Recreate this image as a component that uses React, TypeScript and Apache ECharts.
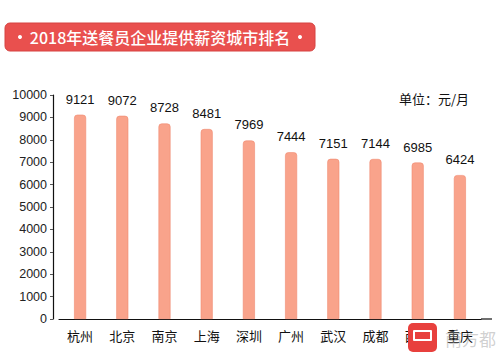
import React, { useEffect, useRef } from "react";
import * as echarts from "echarts";

const title = "2018年送餐员企业提供薪资城市排名";
const unitLabel = "单位：元/月";
const cities = ["杭州", "北京", "南京", "上海", "深圳", "广州", "武汉", "成都", "西安", "重庆"];
const salaries = [9121, 9072, 8728, 8481, 7969, 7444, 7151, 7144, 6985, 6424];
const yMin = 0;
const yMax = 10000;
const yStep = 1000;

const FONT = "'Liberation Sans', 'Noto Sans CJK SC', sans-serif";
const CJK = "'Noto Sans CJK SC', sans-serif";

export default function App() {
  const ref = useRef<HTMLDivElement>(null);
  useEffect(() => {
    if (!ref.current) return;
    const chart = echarts.init(ref.current, undefined, { renderer: "svg" });
    chart.setOption({
      animation: false,
      backgroundColor: "#ffffff",
      grid: { left: 59, right: 19, top: 95, bottom: 42 },
      xAxis: {
        type: "category",
        data: cities,
        axisLine: { lineStyle: { color: "#111", width: 1.2 } },
        axisTick: { show: false },
        axisLabel: { color: "#111", fontSize: 13, margin: 10, fontFamily: CJK },
      },
      yAxis: {
        type: "value",
        min: yMin,
        max: yMax,
        interval: yStep,
        offset: 6,
        splitLine: { show: false },
        axisLine: { show: true, lineStyle: { color: "#111", width: 1.2 } },
        axisTick: { show: true, length: 3, lineStyle: { color: "#555" } },
        axisLabel: {
          color: "#222",
          fontSize: 12.5,
          margin: 6,
          fontFamily: FONT,
          formatter: (v: number) => String(v),
        },
      },
      series: [
        {
          type: "bar",
          data: salaries,
          barWidth: 12,
          itemStyle: {
            color: "#F9A38B",
            borderColor: "#F08A70",
            borderWidth: 0.6,
            borderRadius: [3, 3, 0, 0],
          },
          label: {
            show: true,
            position: "top",
            distance: 9,
            color: "#111",
            fontSize: 13,
            fontFamily: FONT,
          },
        },
      ],
      graphic: [
        {
          type: "rect",
          shape: { x: 5, y: 23, width: 310, height: 28, r: 5 },
          style: { fill: "#E9504E", stroke: "#D64341", lineWidth: 1 },
          z: 10,
        },
        {
          type: "circle",
          shape: { cx: 20, cy: 37, r: 2 },
          style: { fill: "#ffffff" },
          z: 11,
        },
        {
          type: "circle",
          shape: { cx: 300, cy: 37, r: 2 },
          style: { fill: "#ffffff" },
          z: 11,
        },
        {
          type: "text",
          x: 160,
          y: 37,
          style: {
            text: title,
            fill: "#ffffff",
            fontSize: 16,
            fontWeight: 500,
            fontFamily: CJK,
            align: "center",
            verticalAlign: "middle",
          },
          z: 11,
        },
        {
          type: "text",
          x: 434,
          y: 98,
          style: {
            text: unitLabel,
            fill: "#111",
            fontSize: 13,
            fontFamily: CJK,
            align: "center",
            verticalAlign: "middle",
          },
        },
        {
          type: "line",
          shape: { x1: 481, y1: 319, x2: 492, y2: 319 },
          style: { stroke: "#111", lineWidth: 1.2 },
        },
        {
          type: "rect",
          shape: { x: 408, y: 323, width: 29, height: 29, r: 5 },
          style: { fill: "#E8403D" },
          z: 20,
        },
        {
          type: "rect",
          shape: { x: 413, y: 330, width: 19, height: 11, r: 1 },
          style: { fill: "#ffffff" },
          z: 21,
        },
        {
          type: "rect",
          shape: { x: 415, y: 332, width: 15, height: 7 },
          style: { fill: "#E8403D" },
          z: 22,
        },
        {
          type: "text",
          x: 445,
          y: 338,
          style: {
            text: "南方都",
            fill: "rgba(150,150,150,0.45)",
            fontSize: 17,
            fontFamily: CJK,
            align: "left",
            verticalAlign: "middle",
          },
          z: 20,
        },
      ],
    });
    return () => chart.dispose();
  }, []);
  return (
    <div
      ref={ref}
      style={{ position: "fixed", left: 0, top: 0, width: 500, height: 361 }}
    />
  );
}
